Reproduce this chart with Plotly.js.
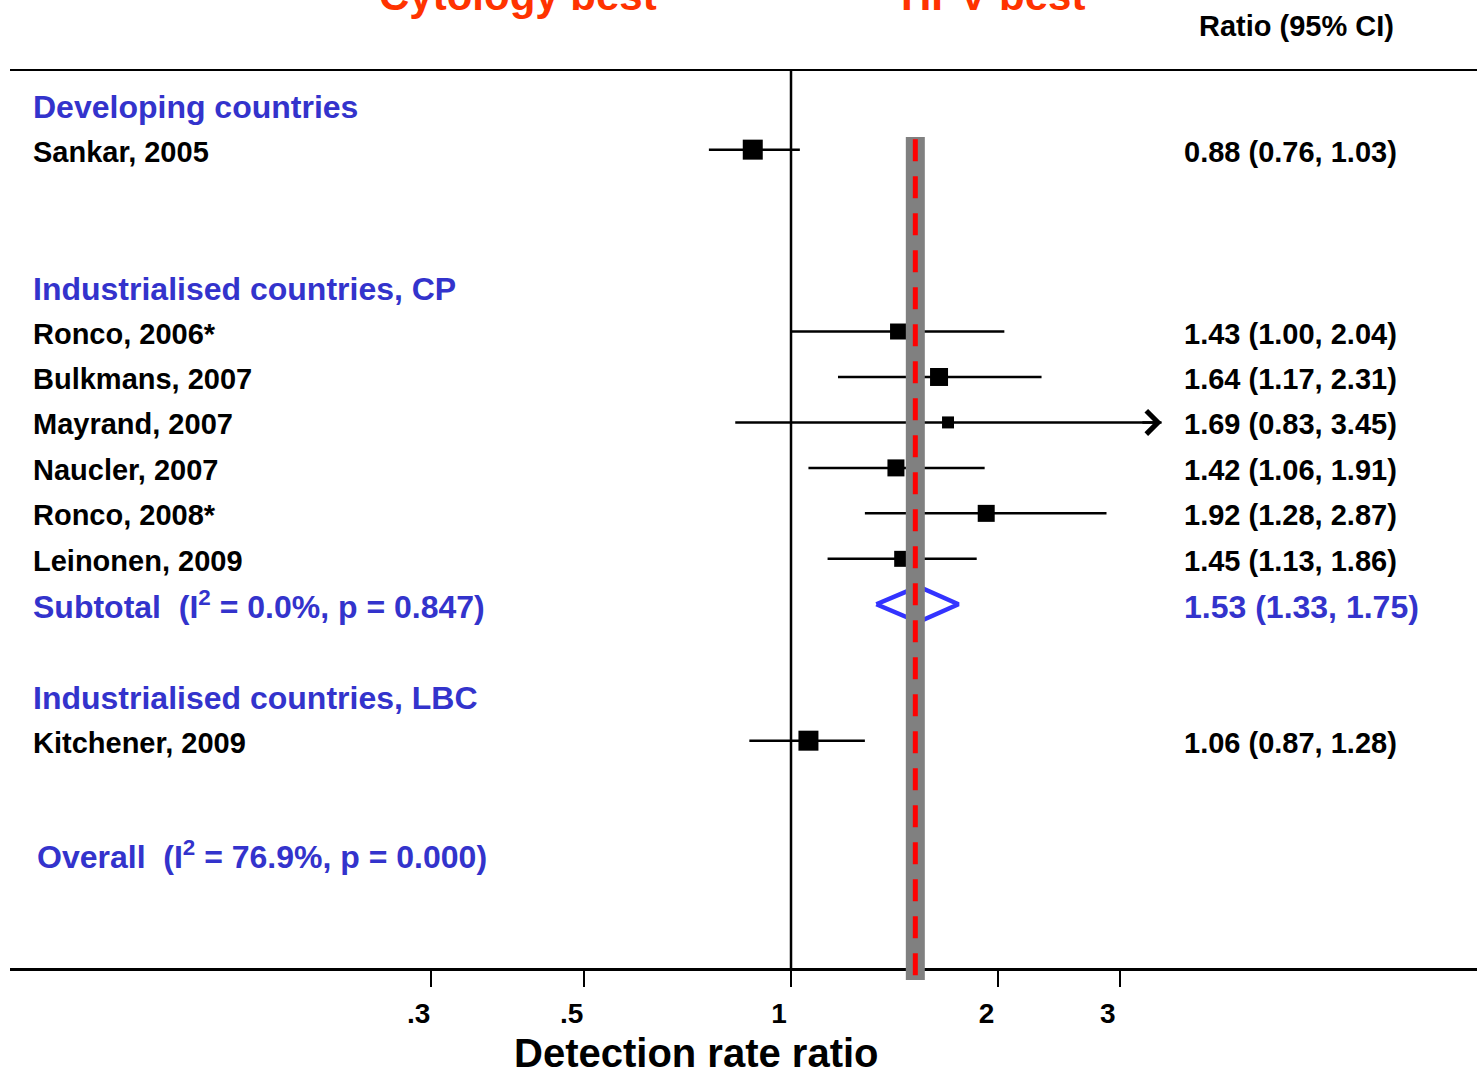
<!DOCTYPE html>
<html>
<head>
<meta charset="utf-8">
<script src="https://cdn.plot.ly/plotly-3.0.1.min.js"></script>
<style>
  html, body { margin: 0; padding: 0; background: #ffffff; }
  #chart { width: 1477px; height: 1069px; }
</style>
</head>
<body>
<div id="chart"></div>
<script>
// ---------------- data ----------------
const groups = ["Developing countries", "Industrialised countries, CP", "Industrialised countries, LBC"];
const studies = ["Sankar, 2005", "Ronco, 2006*", "Bulkmans, 2007", "Mayrand, 2007",
                 "Naucler, 2007", "Ronco, 2008*", "Leinonen, 2009", "Kitchener, 2009"];
const studyGroup = [0, 1, 1, 1, 1, 1, 1, 2];
const ratio = [0.88, 1.43, 1.64, 1.69, 1.42, 1.92, 1.45, 1.06];
const lower = [0.76, 1.00, 1.17, 0.83, 1.06, 1.28, 1.13, 0.87];
const upper = [1.03, 2.04, 2.31, 3.45, 1.91, 2.87, 1.86, 1.28];
const studyWeightBox = [20, 16, 18, 12, 17, 17, 16, 20];   // box size (style)
const subtotalRatio = [null, 1.53, null];
const subtotalLower = [null, 1.33, null];
const subtotalUpper = [null, 1.75, null];
const subtotalHet = [null, "I<sup>2</sup> = 0.0%, p = 0.847", null];
const overallHet = "I<sup>2</sup> = 76.9%, p = 0.000";
const overallRatio = 1.515;
const ciDisplayMax = 3.45;
const tickVals = [0.3, 0.5, 1, 2, 3];
const tickText = [".3", ".5", "1", "2", "3"];
const leftTitle = "Cytology best";
const rightTitle = "HPV best";
const colHeader = "Ratio (95% CI)";
const xTitle = "Detection rate ratio";

// ---------------- layout of rows ----------------
const FONT = "Liberation Sans, Arial, Helvetica, sans-serif";
const BLUE_TXT = "#3333cc";
const BLUE_DIAM = "#3333ff";
const studyRow = [];
const headerRow = [];
const subtotalRow = [];
let r = 0;
groups.forEach((g, gi) => {
  headerRow[gi] = r; r++;
  studyGroup.forEach((sg, si) => { if (sg === gi) { studyRow[si] = r; r++; } });
  subtotalRow[gi] = r; r++;
  r++; // blank
});
const overallRow = r - 0.5;

const fmt = v => v.toFixed(2);
const ciText = (e, l, u) => fmt(e) + " (" + fmt(l) + ", " + fmt(u) + ")";

// whiskers
const wx = [], wy = [];
studies.forEach((s, i) => { wx.push(lower[i], upper[i], null); wy.push(studyRow[i], studyRow[i], null); });

// diamonds
const dx = [], dy = [];
const dh = 0.39;
groups.forEach((g, gi) => {
  if (subtotalRatio[gi] != null) {
    const y = subtotalRow[gi];
    dx.push(subtotalLower[gi], subtotalRatio[gi], subtotalUpper[gi], subtotalRatio[gi], subtotalLower[gi], null);
    dy.push(y, y - dh, y, y + dh, y, null);
  }
});

const traces = [
  { type: "scatter", mode: "lines", x: wx, y: wy, line: { color: "#000", width: 2.5 }, hoverinfo: "skip", showlegend: false },
  { type: "scatter", mode: "markers", x: ratio, y: studyRow,
    marker: { symbol: "square", size: studyWeightBox, color: "#000", opacity: 1, line: { width: 0 } }, showlegend: false },
  { type: "scatter", mode: "lines", x: dx, y: dy, line: { color: BLUE_DIAM, width: 4.5 }, hoverinfo: "skip", showlegend: false }
];

const ann = [];
const txtShift = -2;
const LEFT_PAD = 21;
const RIGHT_X = 0.799;
groups.forEach((g, gi) => {
  ann.push({ xref: "paper", x: 0, xshift: LEFT_PAD, xanchor: "left", yref: "y", y: headerRow[gi], yanchor: "middle", yshift: -3,
    text: g, showarrow: false, font: { family: FONT, size: 32, color: BLUE_TXT, weight: 700 } });
  if (subtotalRatio[gi] != null) {
    ann.push({ xref: "paper", x: 0, xshift: LEFT_PAD, xanchor: "left", yref: "y", y: subtotalRow[gi], yanchor: "middle", yshift: -1,
      text: "Subtotal\u00a0 (" + subtotalHet[gi] + ")", showarrow: false, font: { family: FONT, size: 32, color: BLUE_TXT, weight: 700 } });
    ann.push({ xref: "paper", x: RIGHT_X, xanchor: "left", yref: "y", y: subtotalRow[gi], yanchor: "middle", yshift: -3,
      text: ciText(subtotalRatio[gi], subtotalLower[gi], subtotalUpper[gi]), showarrow: false,
      font: { family: FONT, size: 32, color: BLUE_TXT, weight: 700 } });
  }
});
studies.forEach((s, i) => {
  ann.push({ xref: "paper", x: 0, xshift: LEFT_PAD, xanchor: "left", yref: "y", y: studyRow[i], yanchor: "middle", yshift: txtShift,
    text: s, showarrow: false, font: { family: FONT, size: 29, color: "#000", weight: 700 } });
  ann.push({ xref: "paper", x: RIGHT_X, xanchor: "left", yref: "y", y: studyRow[i], yanchor: "middle", yshift: txtShift,
    text: ciText(ratio[i], lower[i], upper[i]), showarrow: false, font: { family: FONT, size: 29, color: "#000", weight: 700 } });
  if (upper[i] >= ciDisplayMax) {
    ann.push({ xref: "x", yref: "y", x: Math.log10(upper[i]), y: studyRow[i],
      axref: "x", ayref: "y", ax: Math.log10(upper[i]) - 0.03, ay: studyRow[i],
      showarrow: true, arrowhead: 4, arrowsize: 1.8, arrowwidth: 2.5, arrowcolor: "#000", standoff: -2, text: "" });
  }
});
ann.push({ xref: "paper", x: 0, xshift: LEFT_PAD + 4, xanchor: "left", yref: "y", y: overallRow, yanchor: "middle", yshift: -1,
  text: "Overall\u00a0 (" + overallHet + ")", showarrow: false, font: { family: FONT, size: 32, color: BLUE_TXT, weight: 700 } });
ann.push({ xref: "paper", x: 0.877, xanchor: "center", yref: "paper", y: 1.05, yanchor: "middle",
  text: colHeader, showarrow: false, font: { family: FONT, size: 29, color: "#000", weight: 700 } });
ann.push({ xref: "paper", x: 0.3463, xanchor: "center", yref: "paper", y: 1, yanchor: "bottom", yshift: 51, borderpad: 0,
  text: leftTitle, showarrow: false, font: { family: FONT, size: 42, color: "#ff3300", weight: 700 } });
ann.push({ xref: "paper", x: 0.6704, xanchor: "center", yref: "paper", y: 1, yanchor: "bottom", yshift: 51, borderpad: 0,
  text: rightTitle, showarrow: false, font: { family: FONT, size: 42, color: "#ff3300", weight: 700 } });
ann.push({ xref: "paper", x: 0.4683, xanchor: "center", yref: "paper", y: -0.0947, yanchor: "middle",
  text: xTitle, showarrow: false, font: { family: FONT, size: 40, color: "#000", weight: 700 } });

const shapes = [
  { type: "line", xref: "x", yref: "paper", x0: 1, x1: 1, y0: 0, y1: 1, line: { color: "#000", width: 2.5 }, layer: "below" },
  { type: "line", xref: "x", yref: "paper", x0: overallRatio, x1: overallRatio, y0: -0.0134, y1: 0.9265,
    line: { color: "#808080", width: 19 }, layer: "above" },
  { type: "line", xref: "x", yref: "paper", x0: overallRatio, x1: overallRatio, y0: -0.008, y1: 0.925,
    line: { color: "#ff0000", width: 5, dash: "22px,15px" }, layer: "above" }
];

const layout = {
  width: 1477, height: 1069,
  margin: { l: 10, r: 0, t: 71, b: 101 },
  paper_bgcolor: "#fff", plot_bgcolor: "#fff",
  showlegend: false,
  xaxis: {
    type: "log", range: [-1.1335, 0.9956],
    showline: true, linecolor: "#000", linewidth: 2.5, mirror: true,
    ticks: "outside", ticklen: 16, tickwidth: 2, tickcolor: "#000",
    tickvals: tickVals, ticktext: tickText, ticklabelshift: -12, ticklabelstandoff: 3,
    tickfont: { family: FONT, size: 28, color: "#000", weight: 700 },
    showgrid: false, zeroline: false, fixedrange: true
  },
  yaxis: {
    range: [19.0, -0.73], visible: false, showgrid: false, zeroline: false, fixedrange: true
  },
  shapes: shapes,
  annotations: ann
};

Plotly.newPlot("chart", traces, layout, { displayModeBar: false, staticPlot: true });
</script>
</body>
</html>
